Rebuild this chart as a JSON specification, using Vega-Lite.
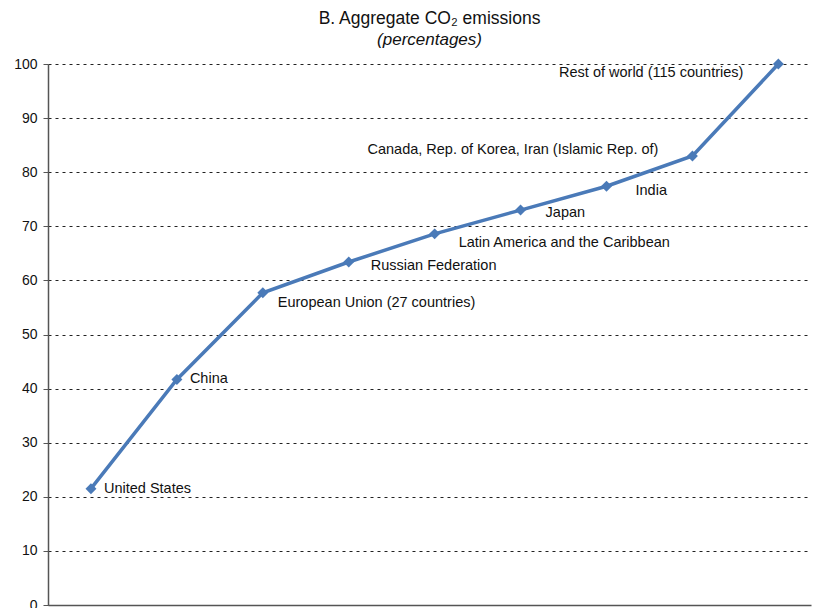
{
  "$schema": "https://vega.github.io/schema/vega-lite/v6.json",
  "autosize": "none",
  "width": 763,
  "height": 541,
  "padding": {"left": 48, "top": 64, "right": 3, "bottom": 3},
  "background": "white",
  "config": {
    "font": "Liberation Sans",
    "view": {"stroke": null}
  },
  "title": {
    "text": "B. Aggregate CO₂ emissions",
    "subtitle": "(percentages)",
    "font": "Liberation Sans",
    "fontSize": 17.5,
    "fontWeight": "normal",
    "color": "#111",
    "subtitleFont": "Liberation Sans",
    "subtitleFontSize": 17,
    "subtitleFontStyle": "italic",
    "subtitleColor": "#111",
    "subtitlePadding": 5,
    "anchor": "middle",
    "offset": 9
  },
  "data": {
    "values": [
      {"order": 1, "group": "United States", "share": 21.5},
      {"order": 2, "group": "China", "share": 41.7},
      {"order": 3, "group": "European Union (27 countries)", "share": 57.7},
      {"order": 4, "group": "Russian Federation", "share": 63.4},
      {"order": 5, "group": "Latin America and the Caribbean", "share": 68.6},
      {"order": 6, "group": "Japan", "share": 73.0},
      {"order": 7, "group": "India", "share": 77.4},
      {"order": 8, "group": "Canada, Rep. of Korea, Iran (Islamic Rep. of)", "share": 83.0},
      {"order": 9, "group": "Rest of world (115 countries)", "share": 100}
    ]
  },
  "encoding": {
    "x": {
      "field": "order",
      "type": "quantitative",
      "scale": {"domain": [0.5, 9.38], "nice": false, "zero": false},
      "axis": {
        "title": null,
        "labels": false,
        "ticks": false,
        "grid": false,
        "domainColor": "#555",
        "domainWidth": 1.5
      }
    },
    "y": {
      "field": "share",
      "type": "quantitative",
      "scale": {"domain": [0, 100], "nice": false},
      "axis": {
        "title": null,
        "values": [0, 10, 20, 30, 40, 50, 60, 70, 80, 90, 100],
        "labelFont": "Liberation Sans",
        "labelFontSize": 14,
        "labelColor": "#111",
        "labelPadding": 6,
        "tickSize": 5,
        "tickColor": "#555",
        "domainColor": "#555",
        "domainWidth": 1.5,
        "grid": true,
        "gridColor": "#222",
        "gridDash": [3, 4],
        "gridWidth": 1
      }
    }
  },
  "layer": [
    {
      "mark": {
        "type": "line",
        "color": "#4a7ab8",
        "strokeWidth": 3.5,
        "point": {"shape": "diamond", "filled": true, "size": 120, "color": "#4a7ab8"}
      }
    },
    {
      "transform": [{"filter": "datum.order <= 2"}],
      "mark": {"type": "text", "align": "left", "baseline": "middle", "dx": 13, "dy": 0, "fontSize": 14.5, "color": "#111"},
      "encoding": {"text": {"field": "group"}}
    },
    {
      "transform": [{"filter": "datum.order == 3"}],
      "mark": {"type": "text", "align": "left", "baseline": "middle", "dx": 15, "dy": 10, "fontSize": 14.5, "color": "#111"},
      "encoding": {"text": {"field": "group"}}
    },
    {
      "transform": [{"filter": "datum.order == 4"}],
      "mark": {"type": "text", "align": "left", "baseline": "middle", "dx": 22, "dy": 4, "fontSize": 14.5, "color": "#111"},
      "encoding": {"text": {"field": "group"}}
    },
    {
      "transform": [{"filter": "datum.order == 5"}],
      "mark": {"type": "text", "align": "left", "baseline": "middle", "dx": 24, "dy": 9, "fontSize": 14.5, "color": "#111"},
      "encoding": {"text": {"field": "group"}}
    },
    {
      "transform": [{"filter": "datum.order == 6"}],
      "mark": {"type": "text", "align": "left", "baseline": "middle", "dx": 25, "dy": 3, "fontSize": 14.5, "color": "#111"},
      "encoding": {"text": {"field": "group"}}
    },
    {
      "transform": [{"filter": "datum.order == 7"}],
      "mark": {"type": "text", "align": "left", "baseline": "middle", "dx": 29, "dy": 5, "fontSize": 14.5, "color": "#111"},
      "encoding": {"text": {"field": "group"}}
    },
    {
      "transform": [{"filter": "datum.order == 8"}],
      "mark": {"type": "text", "align": "right", "baseline": "middle", "dx": -34, "dy": -6, "fontSize": 14.5, "color": "#111"},
      "encoding": {"text": {"field": "group"}}
    },
    {
      "transform": [{"filter": "datum.order == 9"}],
      "mark": {"type": "text", "align": "right", "baseline": "middle", "dx": -35, "dy": 9, "fontSize": 14.5, "color": "#111"},
      "encoding": {"text": {"field": "group"}}
    }
  ]
}
